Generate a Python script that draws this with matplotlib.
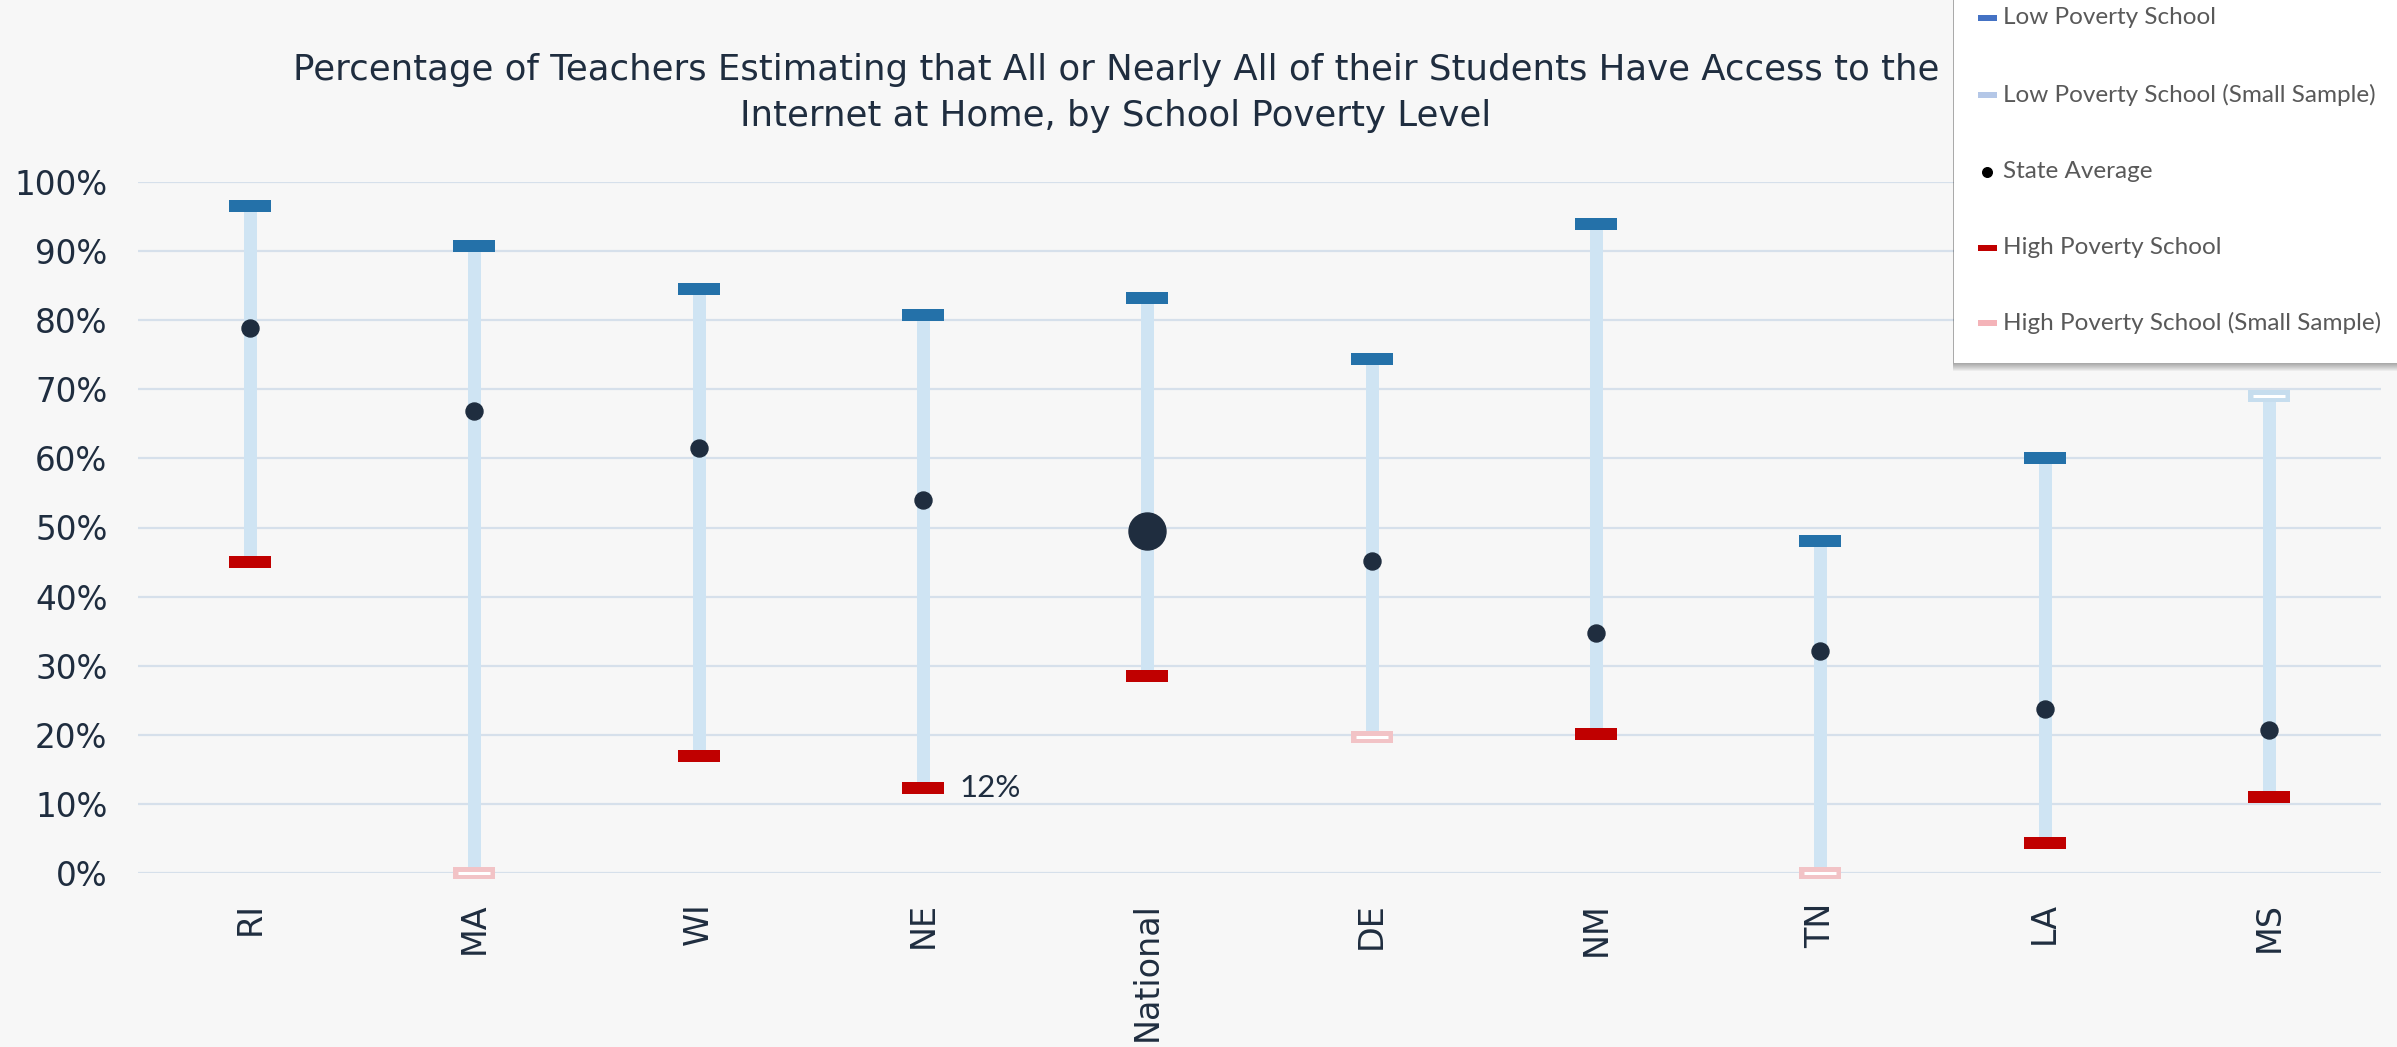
import matplotlib
matplotlib.use("Agg")
import matplotlib.pyplot as plt
from matplotlib.patches import Rectangle
from matplotlib.lines import Line2D

# ---------------- data ----------------
categories = ['RI', 'MA', 'WI', 'NE', 'National', 'DE', 'NM', 'TN', 'LA', 'MS']
low_poverty = [96.5, 90.7, 84.5, 80.8, 83.2, 74.4, 93.9, 48.0, 60.0, 69.1]
low_small_sample = [False, False, False, False, False, False, False, False, False, True]
state_average = [78.9, 66.8, 61.5, 54.0, 49.5, 45.1, 34.8, 32.1, 23.8, 20.7]
high_poverty = [45.0, 0.0, 16.9, 12.3, 28.5, 19.7, 20.1, 0.0, 4.3, 11.0]
high_small_sample = [False, True, False, False, False, True, False, True, False, False]
y_ticks = [0, 10, 20, 30, 40, 50, 60, 70, 80, 90, 100]
y_tick_labels = ['0%', '10%', '20%', '30%', '40%', '50%', '60%', '70%', '80%', '90%', '100%']
legend_labels = ['Low Poverty School', 'Low Poverty School (Small Sample)', 'State Average',
                 'High Poverty School', 'High Poverty School (Small Sample)']
annotated_category = 'NE'
title = ("Percentage of Teachers Estimating that All or Nearly All of their Students Have Access to the\n"
         "Internet at Home, by School Poverty Level")

# ---------------- style ----------------
W, H = 2397, 1047
DPI = 100
BG = '#F7F7F7'
NAVY = '#1F2D3F'
GRID = '#D6E0EB'
RANGE = '#CFE4F3'
BLUE = '#2471A9'
RED = '#C00000'
PINK = '#F2C3C6'
LBLUE = '#C6DDEE'
PX = 72.0 / DPI  # points per pixel

fig = plt.figure(figsize=(W / DPI, H / DPI), dpi=DPI, facecolor=BG)
left, right, top, bottom = 138, 2381, 182, 873
ax = fig.add_axes([left / W, 1 - bottom / H, (right - left) / W, (bottom - top) / H])
ax.set_facecolor(BG)
ax.set_xlim(-0.5, len(categories) - 0.5)
ax.set_ylim(0, 100)
for s in ax.spines.values():
    s.set_visible(False)

for t in y_ticks:
    ax.axhline(t, color=GRID, lw=2.2 * PX, zorder=0)

ax.set_yticks(y_ticks)
ax.set_yticklabels(y_tick_labels)
ax.set_xticks(range(len(categories)))
ax.set_xticklabels(categories, rotation=90)
ax.tick_params(axis='y', length=0, pad=22, labelsize=23.5, labelcolor=NAVY)
ax.tick_params(axis='x', length=0, pad=21, labelsize=24, labelcolor=NAVY)

xs = list(range(len(categories)))
px_per_cat = (right - left) / len(categories)
cap_hw = 21 / px_per_cat
inner_hw = 16 / px_per_cat

# range bars
ax.vlines(xs, high_poverty, low_poverty, colors=RANGE, lw=13 * PX, zorder=2)

def caps(values, flags, solid_color, small_color, want_small):
    xx = [x for x, f in zip(xs, flags) if f == want_small]
    yy = [v for v, f in zip(values, flags) if f == want_small]
    if not xx:
        return
    color = small_color if want_small else solid_color
    ax.hlines(yy, [x - cap_hw for x in xx], [x + cap_hw for x in xx],
              colors=color, lw=12 * PX, zorder=4, clip_on=False)
    if want_small:
        ax.hlines(yy, [x - inner_hw for x in xx], [x + inner_hw for x in xx],
                  colors='white', lw=3 * PX, zorder=5, clip_on=False)

caps(low_poverty, low_small_sample, BLUE, LBLUE, False)
caps(low_poverty, low_small_sample, BLUE, LBLUE, True)
caps(high_poverty, high_small_sample, RED, PINK, False)
caps(high_poverty, high_small_sample, RED, PINK, True)

# state averages
for x, v, c in zip(xs, state_average, categories):
    ms = 37 * PX if c == 'National' else 17 * PX
    ax.plot([x], [v], marker='o', ms=ms, color=NAVY, mec=NAVY, zorder=6, clip_on=False)

# annotation
i = categories.index(annotated_category)
ax.annotate(f"{round(high_poverty[i])}%", xy=(i, high_poverty[i]), xytext=(26, 0),
            textcoords='offset points', va='center', ha='left', fontsize=22.5,
            family='Lato', color=NAVY, zorder=7)

# title
fig.text(1116 / W, 1 - 93 / H, title, ha='center', va='center', fontsize=25.6,
         color=NAVY, linespacing=1.42)

# legend (manual box, partly outside the canvas)
def fx(x):
    return x / W

def fy(y):
    return 1 - y / H

bx0, bx1, by0, by1 = 1954, 2420, -20, 363
for k in range(1, 9):
    fig.add_artist(Rectangle((fx(bx0 - 1), fy(by1 + k)), fx(bx1) - fx(bx0), (by1 + k - by0) / H,
                             transform=fig.transFigure, facecolor='#000000',
                             alpha=0.045, edgecolor='none', zorder=8))
fig.add_artist(Rectangle((fx(bx0), fy(by1)), fx(bx1) - fx(bx0), (by1 - by0) / H,
                         transform=fig.transFigure, facecolor='white', edgecolor='none', zorder=9))

leg_y = [18, 95, 172, 248, 323]
leg_colors = ['#4472C4', '#B4C7E7', '#000000', '#C00000', '#F4B3B8']
for lab, yy, col in zip(legend_labels, leg_y, leg_colors):
    if lab == 'State Average':
        fig.add_artist(Line2D([fx(1987)], [fy(yy)], marker='o', ms=8 * PX * 1.2, color=col,
                              transform=fig.transFigure, zorder=10))
    else:
        fig.add_artist(Line2D([fx(1978), fx(1997)], [fy(yy), fy(yy)], lw=6 * PX, color=col,
                              solid_capstyle='butt', transform=fig.transFigure, zorder=10))
    fig.text(fx(2003), fy(yy), lab, ha='left', va='center', fontsize=17.5, family='Lato',
             color='#595959', zorder=11)

fig.savefig('out.png', dpi=DPI, facecolor=BG)
